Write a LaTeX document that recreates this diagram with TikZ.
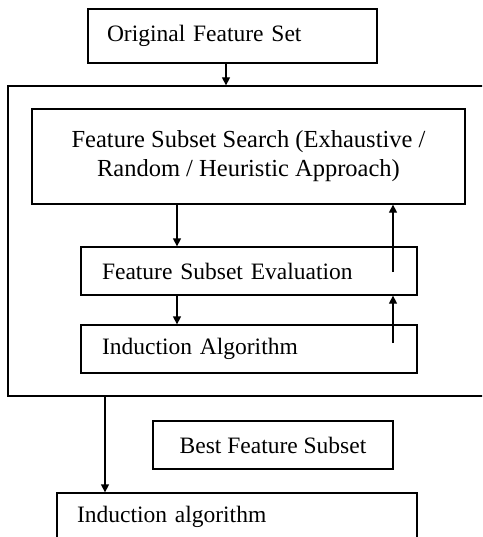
\documentclass[tikz,border=0pt]{standalone}
\usepackage{fontspec}
\setmainfont{Liberation Serif}
\usetikzlibrary{arrows.meta}
\begin{document}
\begin{tikzpicture}[x=1pt,y=-1pt,
  box/.style={draw,line width=1.3pt,rectangle,inner ysep=0pt,font=\fontsize{23.5}{29}\selectfont},
  leftbox/.style={box,align=left},
  arr/.style={line width=1.3pt,-{Triangle[length=8pt,width=8pt]}}]
\useasboundingbox (0,0) rectangle (482,537);
\clip (0,0) rectangle (482,537);
\node[leftbox,minimum width=289pt,minimum height=54pt,inner xsep=19pt,text width=251pt] (orig) at (232.5,36) {Original Feature Set};
\node[box,minimum width=520pt,minimum height=310pt] (outer) at (268,241) {};
\node[box,minimum width=433pt,minimum height=95pt,align=center,font=\fontsize{24.5}{29}\selectfont] (search) at (248.5,156.5) {Feature Subset Search (Exhaustive /\\Random / Heuristic Approach)};
\node[leftbox,minimum width=336pt,minimum height=48pt,inner xsep=21pt,text width=294pt] (eval) at (249,271) {Feature Subset Evaluation};
\node[leftbox,minimum width=336pt,minimum height=48pt,inner xsep=21pt,text width=294pt] (induct) at (249,349) {Induction Algorithm};
\node[box,minimum width=240pt,minimum height=48pt] (best) at (273,445) {Best Feature Subset};
\node[leftbox,minimum width=360pt,minimum height=48pt,inner xsep=20pt,text width=320pt] (final) at (237,517) {Induction algorithm};
\coordinate (u1) at (393,272);
\coordinate (u2) at (393,343);
\draw[arr] (orig.south -| 226,0) -- (outer.north -| 226,0);
\draw[arr] (search.south -| 177,0) -- (eval.north -| 177,0);
\draw[arr] (u1) -- (search.south -| u1);
\draw[arr] (eval.south -| 177,0) -- (induct.north -| 177,0);
\draw[arr] (u2) -- (eval.south -| u2);
\draw[arr] (outer.south -| 105,0) -- (final.north -| 105,0);
\end{tikzpicture}
\end{document}
